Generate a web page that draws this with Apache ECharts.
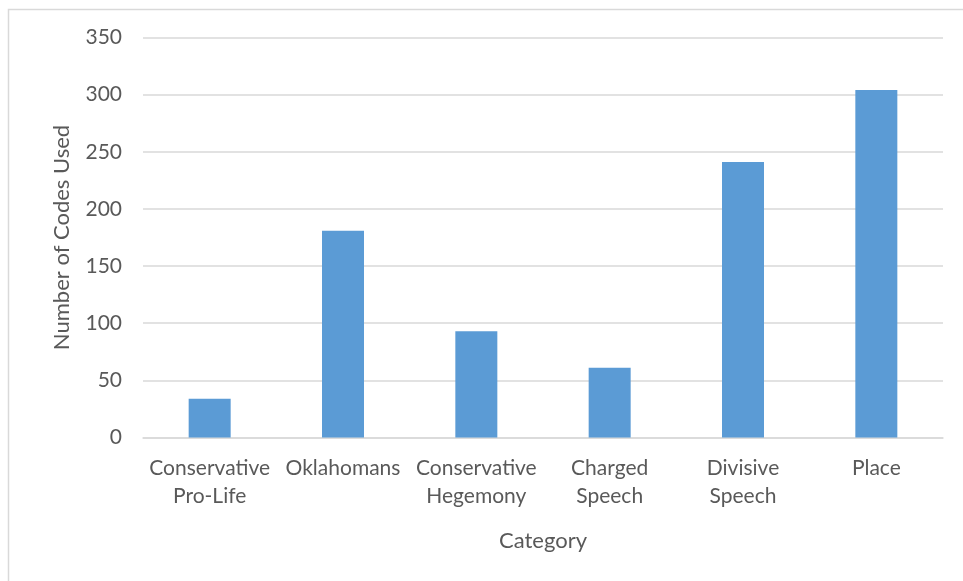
<!DOCTYPE html>
<html>
<head>
<meta charset="utf-8">
<script src="https://cdn.jsdelivr.net/npm/echarts@6/dist/echarts.min.js"></script>
<style>
html,body{margin:0;padding:0;background:#fff;}
#chart{width:963px;height:581px;}
</style>
</head>
<body>
<div id="chart"></div>
<script>
const categories = ["Conservative Pro-Life", "Oklahomans", "Conservative Hegemony", "Charged Speech", "Divisive Speech", "Place"];
const codesUsed = [34, 181, 93, 61, 241, 304];
const yTicks = [0, 50, 100, 150, 200, 250, 300, 350];
const xTitle = "Category";
const yTitle = "Number of Codes Used";

const FONT = "Lato";
const GRAY = "#595959";
const chart = echarts.init(document.getElementById('chart'), null, {renderer: 'canvas'});
chart.setOption({
  animation: false,
  backgroundColor: '#fff',
  graphic: [{
    type: 'rect', left: 6, top: 7, silent: true,
    shape: {x: 0, y: 0, width: 1000, height: 1000},
    style: {fill: 'none', stroke: '#d9d9d9', lineWidth: 1.5}
  }],
  grid: {left: 143, right: 20, top: 37.5, bottom: 143.5, containLabel: false},
  xAxis: {
    type: 'category',
    data: categories,
    name: xTitle,
    nameLocation: 'middle',
    nameGap: 92,
    nameTextStyle: {fontFamily: FONT, fontSize: 22, color: GRAY},
    axisLine: {show: true, lineStyle: {color: '#d9d9d9', width: 1.5}},
    axisTick: {show: false},
    axisLabel: {
      interval: 0,
      margin: 17,
      fontFamily: FONT, fontSize: 21, color: GRAY, lineHeight: 28,
      formatter: v => v.replace(' ', '\n')
    }
  },
  yAxis: {
    type: 'value',
    min: yTicks[0],
    max: yTicks[yTicks.length - 1],
    interval: yTicks[1] - yTicks[0],
    name: yTitle,
    nameLocation: 'middle',
    nameGap: 70,
    nameTextStyle: {fontFamily: FONT, fontSize: 22, color: GRAY},
    axisLine: {show: false},
    axisTick: {show: false},
    axisLabel: {margin: 21, fontFamily: FONT, fontSize: 21, color: GRAY},
    splitLine: {lineStyle: {color: '#d9d9d9', width: 1.5}}
  },
  series: [{
    type: 'bar',
    data: codesUsed,
    barWidth: 42,
    itemStyle: {color: '#5B9BD5'}
  }]
});
</script>
</body>
</html>
